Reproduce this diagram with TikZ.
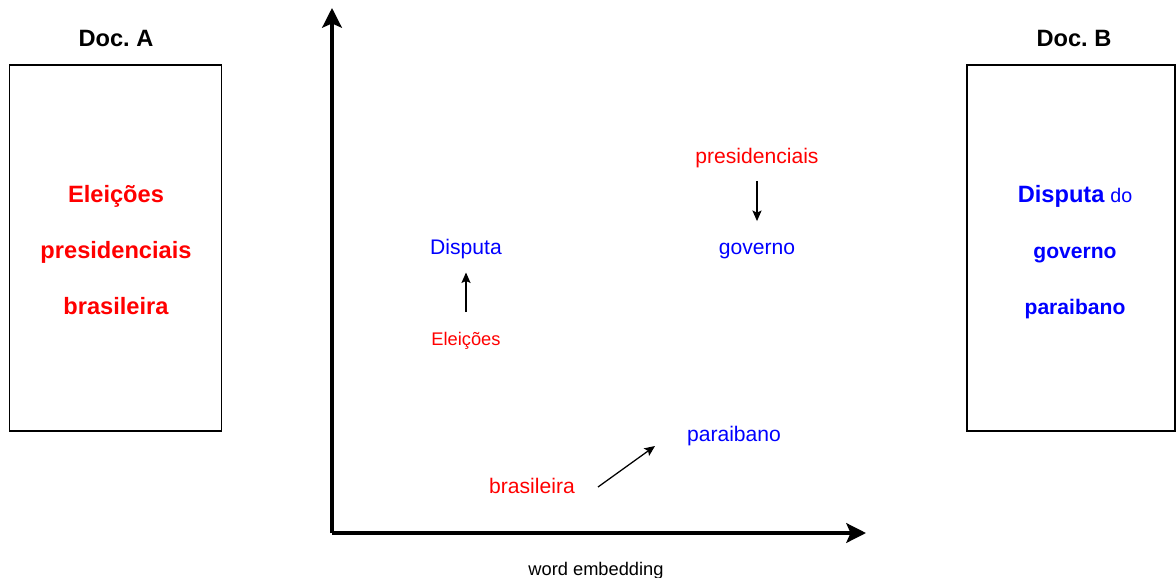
\documentclass[tikz,border=0pt]{standalone}
\usepackage{fontspec}
\setmainfont{Liberation Sans}
\usepackage{xcolor}
\usetikzlibrary{arrows.meta,positioning,calc}
\definecolor{wordred}{RGB}{255,0,0}
\definecolor{wordblue}{RGB}{0,0,255}
\frenchspacing

\begin{document}
\begin{tikzpicture}[x = 0.025cm, y = -0.025cm,
  docbox/.style = {draw, line width = 0.9pt, minimum width = 5.3cm, minimum height = 9.15cm},
  doctitle/.style = {font = \fontsize{16.8}{20}\selectfont\bfseries},
  word/.style = {font = \fontsize{15}{18}\selectfont, text height = 0.75em, text depth = 0.2em},
  redword/.style = {word, text = wordred},
  blueword/.style = {word, text = wordblue},
  axis/.style = {line width = 2.4pt, -{Stealth[length = 14pt, width = 14pt, inset = 3pt]}},
  wordshift/.style = {line width = 0.9pt, -{Stealth[length = 7.5pt, width = 6.5pt, inset = 1.5pt]}}]
\useasboundingbox (0,0) rectangle (1176,578);
% Documents
\node[docbox] (docA) at (115.5,248) {};
\node[docbox, minimum width = 5.2cm] (docB) at (1071,248) {};
\node[doctitle] (titleA) at (116,38) {Doc. A};
\node[doctitle] (titleB) at (1074,38) {Doc. B};
\node[text = wordred, align = center, font = \fontsize{16.8}{39.8}\selectfont\bfseries] (textA) at (116,250)
  {Elei\c{c}\~oes\\presidenciais\\brasileira};
\node[text = wordblue, align = center, font = \fontsize{15}{39.8}\selectfont\bfseries] (textB) at (1075,252)
  {{\fontsize{16.8}{39.8}\selectfont Disputa} {\mdseries\fontsize{14}{39.8}\selectfont do}\\governo\\paraibano};
% Axes
\coordinate (origin) at (332,533);
\coordinate (ytop) at (332,8);
\coordinate (xend) at (866,533);
\draw[axis] (origin) -- (ytop);
\draw[axis] (origin) -- (xend);
\node[font = \fontsize{13}{16}\selectfont] (xlabel) at (596,571) {word embedding};
% Words
\node[blueword] (disp) at (466,251) {Disputa};
\node[redword, font = \fontsize{13}{16}\selectfont] (eleic) at (466,342) {Elei\c{c}\~oes};
\node[redword] (presid) at (757,160) {presidenciais};
\node[blueword] (gov) at (757,251) {governo};
\node[blueword] (parai) at (734,438) {paraibano};
\node[redword] (bras) at (532,490) {brasileira};
% Shifts
\draw[wordshift, shorten < = 13pt, shorten > = 7pt] (eleic.north) -- (disp.south);
\draw[wordshift, shorten < = 6.5pt, shorten > = 13pt] (presid.south) -- (gov.north);
\draw[wordshift] ($(bras.center)+(66,-3)$) -- ($(parai.center)+(-79,8)$);
\end{tikzpicture}
\end{document}
